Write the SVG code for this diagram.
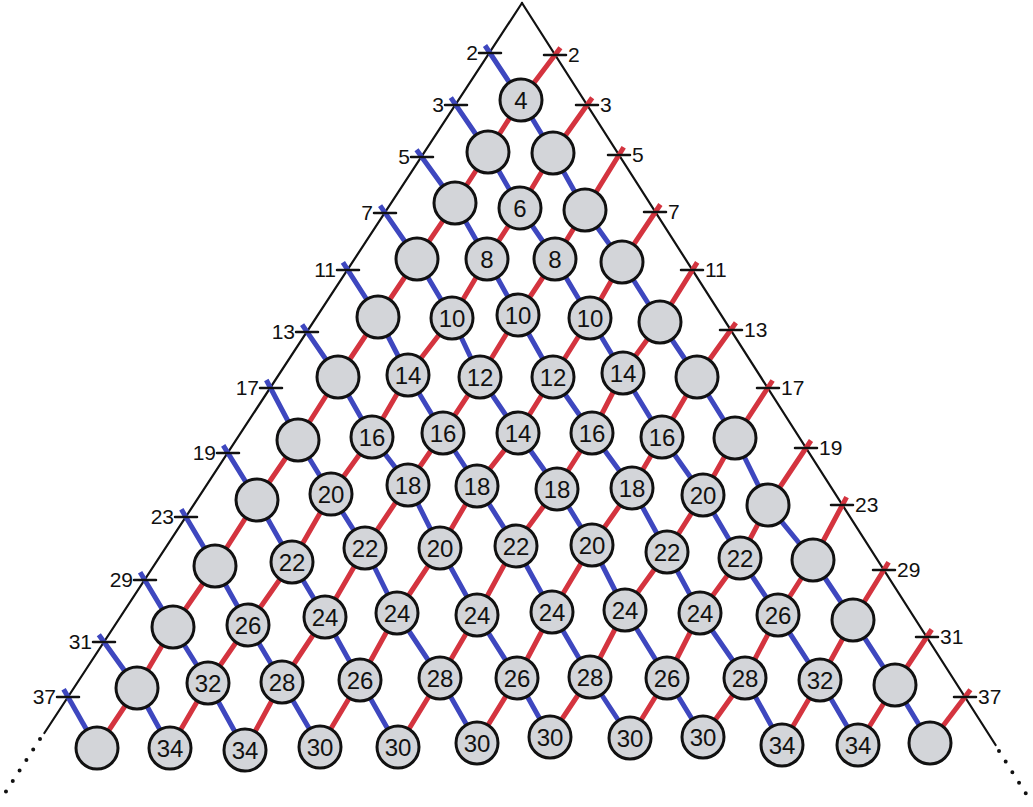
<svg xmlns="http://www.w3.org/2000/svg" width="1033" height="807" viewBox="0 0 1033 807">
<style>
.edge{stroke:#111;stroke-width:2.2;fill:none;stroke-linecap:round}
.dots{stroke:#111;stroke-width:4;fill:none;stroke-linecap:round;stroke-dasharray:0 12.5}
.b{stroke:#3e47bf;stroke-width:5;fill:none;stroke-linejoin:round}
.r{stroke:#d4343f;stroke-width:5;fill:none;stroke-linejoin:round}
.tick{stroke:#111;stroke-width:2.5;stroke-linecap:round}
.node circle{fill:#d3d5d9;stroke:#111;stroke-width:3}
.node text{font-family:"Liberation Sans",Arial,sans-serif;font-size:24px;fill:#111;text-anchor:middle;dominant-baseline:central}
.lbl text{font-family:"Liberation Sans",Arial,sans-serif;font-size:21px;fill:#111}
.lbl.l text{text-anchor:end}
.lbl.rt text{text-anchor:start}
</style>
<rect width="1033" height="807" fill="#fff"/>
<g id="edges">
<path class="edge" d="M522,3 L44.4,733"/>
<path class="dots" d="M40,739 L3,796"/>
<path class="edge" d="M522,3 L995.6,745"/>
<path class="dots" d="M999,751 L1030,800"/>
</g>
<g id="connectors">
<polyline class="b" points="485,45.5 521,100 553,153 585,210 622,262 660,322 697,377 735,438 768,505 813,560 853,620 895,685 930,743"/>
<polyline class="b" points="450.8,97.6 488,152 520,208 555,259 590,318 623,373 662,437 703,495 740,558 778,615 820,680 858,745"/>
<polyline class="b" points="416.5,149.7 455,203 487,259 518,315 553,377 592,433 632,488 667,552 700,613 745,678 782,745"/>
<polyline class="b" points="380.1,205.6 417,259 452,318 480,377 518,433 557,488 592,545 625,610 667,678 703,737"/>
<polyline class="b" points="342.9,262.4 378,317 408,375 443,433 477,485 515,545 552,612 590,677 630,738"/>
<polyline class="b" points="302.1,324.6 338,377 372,437 408,484 440,548 477,615 517,678 550,737"/>
<polyline class="b" points="266.3,380 298,440 331,494 365,548 397,613 440,678 477,743"/>
<polyline class="b" points="223.2,445.4 257,500 292,562 325,617 360,680 398,747"/>
<polyline class="b" points="181.3,509.3 215,566 248,625 282,682 320,747"/>
<polyline class="b" points="140.1,572.3 173,627 208,683 245,750"/>
<polyline class="b" points="98.8,634.7 137,688 170,748"/>
<polyline class="b" points="63.6,689.2 97,748"/>
<polyline class="r" points="560.4,47.8 521,100 488,152 455,203 417,259 378,317 338,377 298,440 257,500 215,566 173,627 137,688 97,748"/>
<polyline class="r" points="592.2,97.7 553,153 520,208 487,259 452,318 408,375 372,437 331,494 292,562 248,625 208,683 170,748"/>
<polyline class="r" points="623.7,147.3 585,210 555,259 518,315 480,377 443,433 408,484 365,548 325,617 282,682 245,750"/>
<polyline class="r" points="660.4,204.5 622,262 590,318 553,377 518,433 477,485 440,548 397,613 360,680 320,747"/>
<polyline class="r" points="697.2,262.4 660,322 623,373 592,433 557,488 515,545 477,615 440,678 398,747"/>
<polyline class="r" points="735.9,322.7 697,377 662,437 632,488 592,545 552,612 517,678 477,743"/>
<polyline class="r" points="772.6,380.5 735,438 703,495 667,552 625,610 590,677 550,737"/>
<polyline class="r" points="811,440.5 768,505 740,558 700,613 667,678 630,738"/>
<polyline class="r" points="846.6,497.1 813,560 778,615 745,678 703,737"/>
<polyline class="r" points="888.6,562.3 853,620 820,680 782,745"/>
<polyline class="r" points="931.7,629.5 895,685 858,745"/>
<polyline class="r" points="970.4,689.8 930,743"/>
</g>
<g id="left-primes">
<g id="L2" class="lbl l"><line class="tick" x1="479" y1="53" x2="501" y2="53"/><text x="478" y="60">2</text></g>
<g id="L3" class="lbl l"><line class="tick" x1="445" y1="105" x2="467" y2="105"/><text x="444" y="112">3</text></g>
<g id="L5" class="lbl l"><line class="tick" x1="411" y1="157" x2="433" y2="157"/><text x="410" y="164">5</text></g>
<g id="L7" class="lbl l"><line class="tick" x1="374" y1="213" x2="396" y2="213"/><text x="373" y="220">7</text></g>
<g id="L11" class="lbl l"><line class="tick" x1="337" y1="270" x2="359" y2="270"/><text x="336" y="277">11</text></g>
<g id="L13" class="lbl l"><line class="tick" x1="296" y1="332" x2="318" y2="332"/><text x="295" y="339">13</text></g>
<g id="L17" class="lbl l"><line class="tick" x1="260" y1="388" x2="282" y2="388"/><text x="259" y="395">17</text></g>
<g id="L19" class="lbl l"><line class="tick" x1="217" y1="453" x2="239" y2="453"/><text x="216" y="460">19</text></g>
<g id="L23" class="lbl l"><line class="tick" x1="175" y1="517" x2="197" y2="517"/><text x="174" y="524">23</text></g>
<g id="L29" class="lbl l"><line class="tick" x1="134" y1="580" x2="156" y2="580"/><text x="133" y="587">29</text></g>
<g id="L31" class="lbl l"><line class="tick" x1="93" y1="642" x2="115" y2="642"/><text x="92" y="649">31</text></g>
<g id="L37" class="lbl l"><line class="tick" x1="57" y1="697" x2="79" y2="697"/><text x="56" y="704">37</text></g>
</g>
<g id="right-primes">
<g id="R2" class="lbl rt"><line class="tick" x1="544" y1="55" x2="566" y2="55"/><text x="568" y="62">2</text></g>
<g id="R3" class="lbl rt"><line class="tick" x1="576" y1="105" x2="598" y2="105"/><text x="600" y="112">3</text></g>
<g id="R5" class="lbl rt"><line class="tick" x1="608" y1="155" x2="630" y2="155"/><text x="632" y="162">5</text></g>
<g id="R7" class="lbl rt"><line class="tick" x1="644" y1="212" x2="666" y2="212"/><text x="668" y="219">7</text></g>
<g id="R11" class="lbl rt"><line class="tick" x1="681" y1="270" x2="703" y2="270"/><text x="705" y="277">11</text></g>
<g id="R13" class="lbl rt"><line class="tick" x1="720" y1="330" x2="742" y2="330"/><text x="744" y="337">13</text></g>
<g id="R17" class="lbl rt"><line class="tick" x1="757" y1="388" x2="779" y2="388"/><text x="781" y="395">17</text></g>
<g id="R19" class="lbl rt"><line class="tick" x1="795" y1="448" x2="817" y2="448"/><text x="819" y="455">19</text></g>
<g id="R23" class="lbl rt"><line class="tick" x1="831" y1="505" x2="853" y2="505"/><text x="855" y="512">23</text></g>
<g id="R29" class="lbl rt"><line class="tick" x1="873" y1="570" x2="895" y2="570"/><text x="897" y="577">29</text></g>
<g id="R31" class="lbl rt"><line class="tick" x1="916" y1="637" x2="938" y2="637"/><text x="940" y="644">31</text></g>
<g id="R37" class="lbl rt"><line class="tick" x1="954" y1="697" x2="976" y2="697"/><text x="978" y="704">37</text></g>
</g>
<g id="nodes">
<g id="n0-0" class="node"><circle cx="521" cy="100" r="21"/><text x="521" y="100">4</text></g>
<g id="n1-0" class="node"><circle cx="488" cy="152" r="21"/></g>
<g id="n1-1" class="node"><circle cx="553" cy="153" r="21"/></g>
<g id="n2-0" class="node"><circle cx="455" cy="203" r="21"/></g>
<g id="n2-1" class="node"><circle cx="520" cy="208" r="21"/><text x="520" y="208">6</text></g>
<g id="n2-2" class="node"><circle cx="585" cy="210" r="21"/></g>
<g id="n3-0" class="node"><circle cx="417" cy="259" r="21"/></g>
<g id="n3-1" class="node"><circle cx="487" cy="259" r="21"/><text x="487" y="259">8</text></g>
<g id="n3-2" class="node"><circle cx="555" cy="259" r="21"/><text x="555" y="259">8</text></g>
<g id="n3-3" class="node"><circle cx="622" cy="262" r="21"/></g>
<g id="n4-0" class="node"><circle cx="378" cy="317" r="21"/></g>
<g id="n4-1" class="node"><circle cx="452" cy="318" r="21"/><text x="452" y="318">10</text></g>
<g id="n4-2" class="node"><circle cx="518" cy="315" r="21"/><text x="518" y="315">10</text></g>
<g id="n4-3" class="node"><circle cx="590" cy="318" r="21"/><text x="590" y="318">10</text></g>
<g id="n4-4" class="node"><circle cx="660" cy="322" r="21"/></g>
<g id="n5-0" class="node"><circle cx="338" cy="377" r="21"/></g>
<g id="n5-1" class="node"><circle cx="408" cy="375" r="21"/><text x="408" y="375">14</text></g>
<g id="n5-2" class="node"><circle cx="480" cy="377" r="21"/><text x="480" y="377">12</text></g>
<g id="n5-3" class="node"><circle cx="553" cy="377" r="21"/><text x="553" y="377">12</text></g>
<g id="n5-4" class="node"><circle cx="623" cy="373" r="21"/><text x="623" y="373">14</text></g>
<g id="n5-5" class="node"><circle cx="697" cy="377" r="21"/></g>
<g id="n6-0" class="node"><circle cx="298" cy="440" r="21"/></g>
<g id="n6-1" class="node"><circle cx="372" cy="437" r="21"/><text x="372" y="437">16</text></g>
<g id="n6-2" class="node"><circle cx="443" cy="433" r="21"/><text x="443" y="433">16</text></g>
<g id="n6-3" class="node"><circle cx="518" cy="433" r="21"/><text x="518" y="433">14</text></g>
<g id="n6-4" class="node"><circle cx="592" cy="433" r="21"/><text x="592" y="433">16</text></g>
<g id="n6-5" class="node"><circle cx="662" cy="437" r="21"/><text x="662" y="437">16</text></g>
<g id="n6-6" class="node"><circle cx="735" cy="438" r="21"/></g>
<g id="n7-0" class="node"><circle cx="257" cy="500" r="21"/></g>
<g id="n7-1" class="node"><circle cx="331" cy="494" r="21"/><text x="331" y="494">20</text></g>
<g id="n7-2" class="node"><circle cx="408" cy="485" r="21"/><text x="408" y="485">18</text></g>
<g id="n7-3" class="node"><circle cx="477" cy="486" r="21"/><text x="477" y="486">18</text></g>
<g id="n7-4" class="node"><circle cx="557" cy="489" r="21"/><text x="557" y="489">18</text></g>
<g id="n7-5" class="node"><circle cx="632" cy="488" r="21"/><text x="632" y="488">18</text></g>
<g id="n7-6" class="node"><circle cx="703" cy="495" r="21"/><text x="703" y="495">20</text></g>
<g id="n7-7" class="node"><circle cx="768" cy="505" r="21"/></g>
<g id="n8-0" class="node"><circle cx="215" cy="566" r="21"/></g>
<g id="n8-1" class="node"><circle cx="292" cy="562" r="21"/><text x="292" y="562">22</text></g>
<g id="n8-2" class="node"><circle cx="365" cy="548" r="21"/><text x="365" y="548">22</text></g>
<g id="n8-3" class="node"><circle cx="440" cy="548" r="21"/><text x="440" y="548">20</text></g>
<g id="n8-4" class="node"><circle cx="516" cy="546" r="21"/><text x="516" y="546">22</text></g>
<g id="n8-5" class="node"><circle cx="592" cy="545" r="21"/><text x="592" y="545">20</text></g>
<g id="n8-6" class="node"><circle cx="667" cy="552" r="21"/><text x="667" y="552">22</text></g>
<g id="n8-7" class="node"><circle cx="740" cy="558" r="21"/><text x="740" y="558">22</text></g>
<g id="n8-8" class="node"><circle cx="813" cy="560" r="21"/></g>
<g id="n9-0" class="node"><circle cx="173" cy="627" r="21"/></g>
<g id="n9-1" class="node"><circle cx="248" cy="625" r="21"/><text x="248" y="625">26</text></g>
<g id="n9-2" class="node"><circle cx="325" cy="617" r="21"/><text x="325" y="617">24</text></g>
<g id="n9-3" class="node"><circle cx="397" cy="613" r="21"/><text x="397" y="613">24</text></g>
<g id="n9-4" class="node"><circle cx="477" cy="615" r="21"/><text x="477" y="615">24</text></g>
<g id="n9-5" class="node"><circle cx="552" cy="612" r="21"/><text x="552" y="612">24</text></g>
<g id="n9-6" class="node"><circle cx="625" cy="610" r="21"/><text x="625" y="610">24</text></g>
<g id="n9-7" class="node"><circle cx="700" cy="613" r="21"/><text x="700" y="613">24</text></g>
<g id="n9-8" class="node"><circle cx="778" cy="615" r="21"/><text x="778" y="615">26</text></g>
<g id="n9-9" class="node"><circle cx="853" cy="620" r="21"/></g>
<g id="n10-0" class="node"><circle cx="137" cy="688" r="21"/></g>
<g id="n10-1" class="node"><circle cx="208" cy="683" r="21"/><text x="208" y="683">32</text></g>
<g id="n10-2" class="node"><circle cx="282" cy="682" r="21"/><text x="282" y="682">28</text></g>
<g id="n10-3" class="node"><circle cx="360" cy="680" r="21"/><text x="360" y="680">26</text></g>
<g id="n10-4" class="node"><circle cx="440" cy="678" r="21"/><text x="440" y="678">28</text></g>
<g id="n10-5" class="node"><circle cx="517" cy="678" r="21"/><text x="517" y="678">26</text></g>
<g id="n10-6" class="node"><circle cx="590" cy="677" r="21"/><text x="590" y="677">28</text></g>
<g id="n10-7" class="node"><circle cx="667" cy="678" r="21"/><text x="667" y="678">26</text></g>
<g id="n10-8" class="node"><circle cx="745" cy="678" r="21"/><text x="745" y="678">28</text></g>
<g id="n10-9" class="node"><circle cx="820" cy="680" r="21"/><text x="820" y="680">32</text></g>
<g id="n10-10" class="node"><circle cx="895" cy="685" r="21"/></g>
<g id="n11-0" class="node"><circle cx="97" cy="748" r="21"/></g>
<g id="n11-1" class="node"><circle cx="170" cy="748" r="21"/><text x="170" y="748">34</text></g>
<g id="n11-2" class="node"><circle cx="245" cy="750" r="21"/><text x="245" y="750">34</text></g>
<g id="n11-3" class="node"><circle cx="320" cy="747" r="21"/><text x="320" y="747">30</text></g>
<g id="n11-4" class="node"><circle cx="398" cy="747" r="21"/><text x="398" y="747">30</text></g>
<g id="n11-5" class="node"><circle cx="477" cy="743" r="21"/><text x="477" y="743">30</text></g>
<g id="n11-6" class="node"><circle cx="550" cy="737" r="21"/><text x="550" y="737">30</text></g>
<g id="n11-7" class="node"><circle cx="630" cy="738" r="21"/><text x="630" y="738">30</text></g>
<g id="n11-8" class="node"><circle cx="703" cy="737" r="21"/><text x="703" y="737">30</text></g>
<g id="n11-9" class="node"><circle cx="782" cy="745" r="21"/><text x="782" y="745">34</text></g>
<g id="n11-10" class="node"><circle cx="858" cy="745" r="21"/><text x="858" y="745">34</text></g>
<g id="n11-11" class="node"><circle cx="930" cy="743" r="21"/></g>
</g>
</svg>
